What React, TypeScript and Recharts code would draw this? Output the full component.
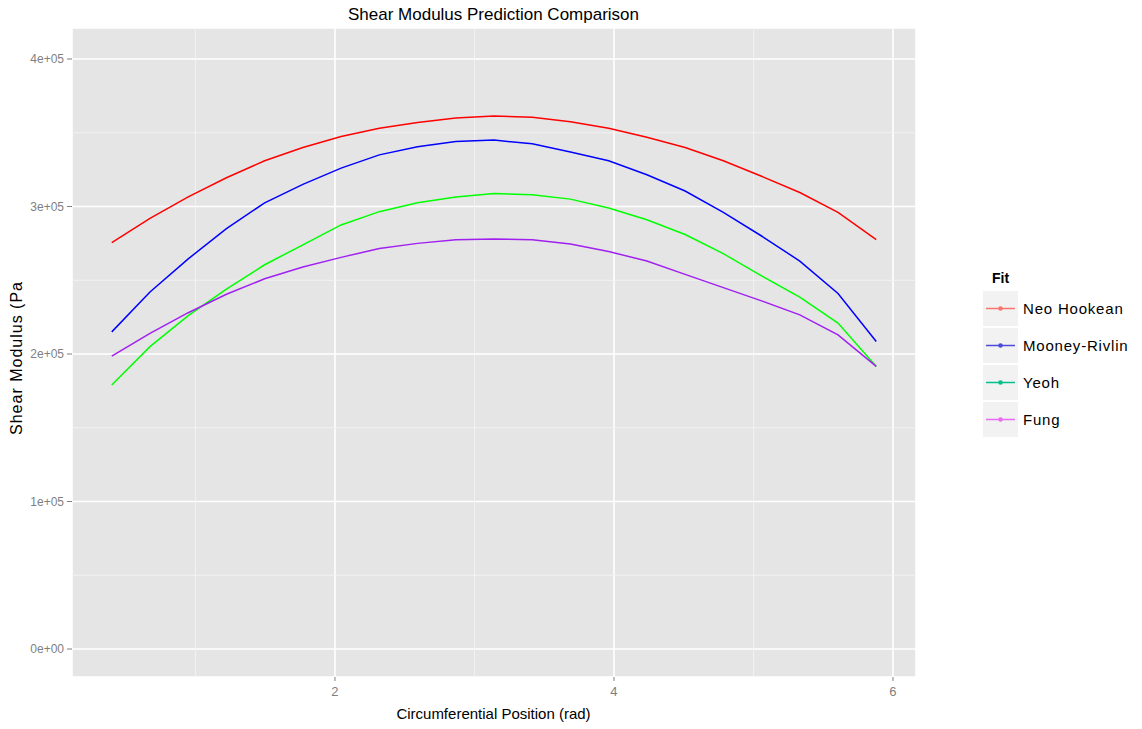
import { LineChart, Line, XAxis, YAxis, CartesianGrid, ReferenceLine } from 'recharts';

// circumferential position (rad)
const positions = [
  0.4, 0.674, 0.948, 1.222, 1.496, 1.77, 2.044, 2.318, 2.592, 2.866, 3.14,
  3.414, 3.688, 3.962, 4.236, 4.51, 4.784, 5.058, 5.332, 5.606, 5.88,
];

// shear modulus predictions (Pa)
const neoHookean = [
  275500, 292000, 306500, 319500, 331000, 340000, 347500, 353000, 357000, 360000, 361300,
  360500, 357500, 353000, 347000, 340000, 331000, 320500, 309500, 296000, 277500,
];
const mooneyRivlin = [
  215000, 242000, 264500, 285000, 302500, 315000, 326000, 335000, 340500, 344000, 345000,
  342500, 337000, 331000, 321500, 310500, 296000, 280000, 263000, 241000, 208500,
];
const yeoh = [
  179000, 205000, 226000, 244000, 260500, 274000, 287500, 296500, 302500, 306500, 308800,
  308000, 305000, 299000, 291000, 281000, 268000, 253000, 238500, 221000, 191600,
];
const fung = [
  198500, 214000, 228000, 240500, 251000, 259000, 265500, 271500, 275000, 277500, 277900,
  277500, 274500, 269500, 263000, 254000, 245000, 236000, 226500, 213000, 191600,
];

const seriesNames = ['Neo Hookean', 'Mooney-Rivlin', 'Yeoh', 'Fung'];
const seriesValues = [neoHookean, mooneyRivlin, yeoh, fung];
const lineColors = ['#FF0000', '#0000FF', '#00FF00', '#A020F0'];
const legendColors = ['#F8766D', '#4B4BD8', '#00C08B', '#E76BF3'];

const xTicks = [2, 4, 6];
const xMinor = [1, 3, 5];
const yTicks = [0, 100000, 200000, 300000, 400000];
const yTickLabels = ['0e+00', '1e+05', '2e+05', '3e+05', '4e+05'];
const yMinor = [50000, 150000, 250000, 350000];

const data = positions.map((x, i) => {
  const row: Record<string, number> = { x };
  seriesNames.forEach((name, s) => {
    row[name] = seriesValues[s][i];
  });
  return row;
});

const font = '"Liberation Sans", Arial, sans-serif';

const App = () => (
  <div style={{ position: 'relative', width: 1142, height: 729, marginTop: -8, marginLeft: -8, fontFamily: font, background: '#fff' }}>
    <div style={{ position: 'absolute', left: 72, width: 843, top: 5, textAlign: 'center', fontSize: 17, color: '#000' }}>
      Shear Modulus Prediction Comparison
    </div>
    <LineChart width={1142} height={729} data={data} margin={{ top: 28, right: 226, bottom: 0, left: 0 }}>
      <CartesianGrid fill="#E5E5E5" stroke="#FFFFFF" strokeWidth={1.6} />
      {xMinor.map((v) => (
        <ReferenceLine key={'x' + v} x={v} stroke="#F3F3F3" strokeWidth={0.9} />
      ))}
      {yMinor.map((v) => (
        <ReferenceLine key={'y' + v} y={v} stroke="#F3F3F3" strokeWidth={0.9} />
      ))}
      <XAxis
        dataKey="x"
        type="number"
        domain={[0.115, 6.165]}
        allowDataOverflow
        ticks={xTicks}
        height={52}
        axisLine={false}
        tickSize={4}
        tickMargin={6}
        tickLine={{ stroke: '#7F7F7F' }}
        tick={{ fill: '#7F7F7F', fontSize: 13, fontFamily: font }}
      />
      <YAxis
        type="number"
        domain={[-18983, 421017]}
        allowDataOverflow
        ticks={yTicks}
        width={72}
        axisLine={false}
        tickSize={5}
        tickMargin={3}
        tickLine={{ stroke: '#7F7F7F' }}
        tick={{ fill: '#7F7F7F', fontSize: 12, fontFamily: font }}
        tickFormatter={(v: number) => yTickLabels[yTicks.indexOf(v)]}
      />
      {seriesNames.map((name, s) => (
        <Line
          key={name}
          type="linear"
          dataKey={name}
          stroke={lineColors[s]}
          strokeWidth={1.5}
          dot={false}
          isAnimationActive={false}
        />
      ))}
    </LineChart>
    <div style={{ position: 'absolute', left: 72, width: 843, top: 705, textAlign: 'center', fontSize: 15, color: '#000' }}>
      Circumferential Position (rad)
    </div>
    <div
      style={{
        position: 'absolute',
        left: 17,
        top: 358,
        transform: 'translate(-50%, -50%) rotate(-90deg)',
        whiteSpace: 'nowrap',
        fontSize: 16,
        letterSpacing: 1,
        color: '#000',
      }}
    >
      Shear Modulus (Pa
    </div>
    <div style={{ position: 'absolute', left: 983, top: 270 }}>
      <div style={{ fontSize: 14, fontWeight: 'bold', marginLeft: 9, height: 20 }}>Fit</div>
      {seriesNames.map((name, s) => (
        <div key={name} style={{ display: 'flex', alignItems: 'center', height: 37 }}>
          <svg width={35} height={35} style={{ display: 'block' }}>
            <rect x={0} y={0} width={35} height={35} fill="#F2F2F2" />
            <line x1={3} y1={17.5} x2={32} y2={17.5} stroke={legendColors[s]} strokeWidth={1.5} />
            <circle cx={17.5} cy={17.5} r={2.3} fill={legendColors[s]} />
          </svg>
          <span style={{ marginLeft: 5, fontSize: 15, letterSpacing: 0.8, color: '#000' }}>{name}</span>
        </div>
      ))}
    </div>
  </div>
);

export default App;
